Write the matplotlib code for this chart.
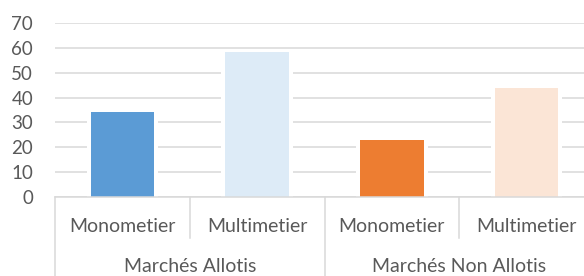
import matplotlib.pyplot as plt

plt.rcParams['font.family'] = ['Lato', 'DejaVu Sans']

sub_labels = ['Monometier', 'Multimetier', 'Monometier', 'Multimetier']
group_labels = ['Marchés Allotis', 'Marchés Non Allotis']
values = [34, 58.5, 23, 44]
colors = ['#5B9BD5', '#DDEBF7', '#ED7D31', '#FBE5D6']
yticks = [0, 10, 20, 30, 40, 50, 60, 70]

W, H = 584, 276
fig = plt.figure(figsize=(W / 100, H / 100), dpi=100)
# plot area runs past the right edge, like the source
ax = fig.add_axes([55 / W, (H - 197) / H, 539 / W, 174 / H])

x = range(len(values))
# white halo behind bars breaks the gridlines like Excel does
ax.bar(x, values, width=0.53, color='white', zorder=2)
ax.bar(x, values, width=0.47, color=colors, zorder=3)

ax.set_xlim(-0.5, len(values) - 0.5)
ax.set_ylim(0, 70)
ax.set_yticks(yticks)
ax.grid(axis='y', color='#D9D9D9', linewidth=1.1, zorder=0)
ax.tick_params(axis='y', length=0, pad=15.8, labelsize=13.5, labelcolor='#595959')
ax.set_xticks([])
for s in ['top', 'right', 'left']:
    ax.spines[s].set_visible(False)
ax.spines['bottom'].set_color('#D9D9D9')
ax.spines['bottom'].set_linewidth(1.1)
ax.spines['bottom'].set_zorder(4)

tr = ax.get_xaxis_transform()
gray = '#595959'
line = '#D9D9D9'

# inner separators and labels
for i, lab in enumerate(sub_labels):
    ax.text(i, -0.17, lab, transform=tr, ha='center', va='center',
            fontsize=14, color=gray, clip_on=False)
for xs in [0.5, 2.5]:
    ax.plot([xs, xs], [0, -0.235], transform=tr, color=line, lw=1.1, clip_on=False)

# group separators and labels
for xs in [-0.5, 1.5, 3.5]:
    ax.plot([xs, xs], [0, -0.46], transform=tr, color=line, lw=1.1, clip_on=False)
for g, lab in enumerate(group_labels):
    ax.text(2 * g + 0.5, -0.4, lab, transform=tr, ha='center', va='center',
            fontsize=14, color=gray, clip_on=False)

fig.savefig('out.png', dpi=100)
